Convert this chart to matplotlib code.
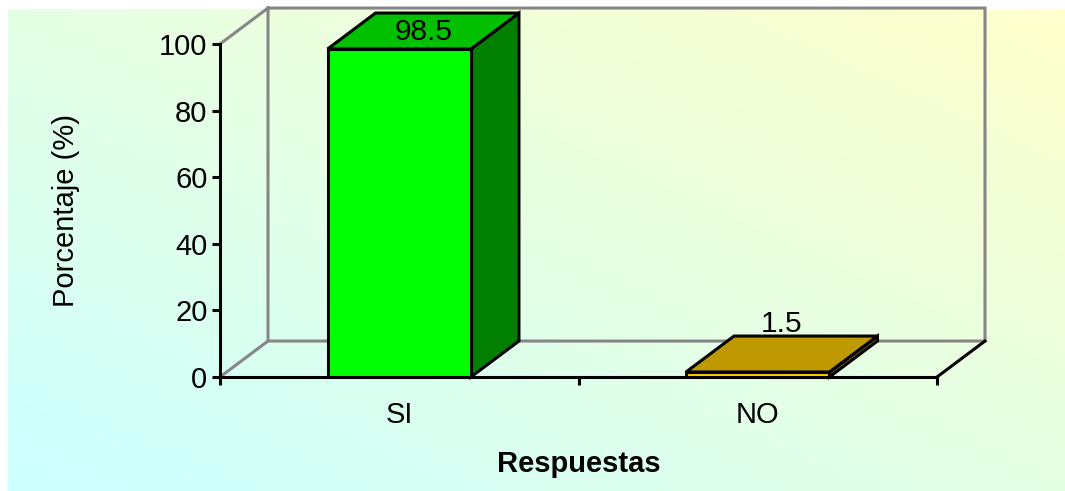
import numpy as np
import matplotlib
matplotlib.use('Agg')
import matplotlib.pyplot as plt
from matplotlib.colors import to_rgb
from matplotlib.patches import Polygon

plt.rcParams['font.family'] = ['Liberation Sans', 'DejaVu Sans']

categories = ['SI', 'NO']
values = [98.5, 1.5]
yticks = [0, 20, 40, 60, 80, 100]

W, H = 1065, 491
fig = plt.figure(figsize=(W/100, H/100), dpi=100, facecolor='white')

# fondo degradado
bg = fig.add_axes([8/W, 0, (W-8)/W, (H-9)/H])
u, v = np.meshgrid(np.linspace(0, 1, 300), np.linspace(0, 1, 150))
t = ((u + v)/2)[..., None]
c1 = np.array(to_rgb('#CCFFFF'))
c2 = np.array(to_rgb('#FFFFCC'))
bg.imshow(c1*(1-t) + c2*t, origin='lower', aspect='auto')
bg.axis('off')

ax = fig.add_axes([220/W, (H-377)/H, 717/W, 333/H])
ax.patch.set_alpha(0)
ax.set_xlim(0, 2)
ax.set_ylim(0, 100)

# profundidad del grafico 3D en unidades de datos
dx = 48/358.5
dy = 10.8
bw = 0.4
grey = '#868686'
lw = 2.2

# paredes
ax.plot([0, dx, 2+dx, 2+dx, dx, dx], [100, 100+dy, 100+dy, dy, dy, 100+dy],
        color=grey, lw=lw, clip_on=False, zorder=1, solid_joinstyle='miter')
ax.plot([0, dx], [0, dy], color=grey, lw=lw, clip_on=False, zorder=1)
ax.plot([2, 2+dx], [0, dy], color='black', lw=lw, clip_on=False, zorder=2)

# etiqueta NO queda detras de la barra
front = ['#00FF00', '#FFCC00']
top = ['#00C000', '#BF9900']
side = ['#007F00', '#806600']
for i, val in enumerate(values):
    c = i + 0.5
    x0, x1 = c - bw/2, c + bw/2
    ax.add_patch(Polygon([(x1, 0), (x1+dx, dy), (x1+dx, val+dy), (x1, val)], fc=side[i],
                         ec='black', lw=lw, clip_on=False, zorder=4, joinstyle='miter'))
    ax.add_patch(Polygon([(x0, val), (x0+dx, val+dy), (x1+dx, val+dy), (x1, val)], fc=top[i],
                         ec='black', lw=lw, clip_on=False, zorder=4, joinstyle='miter'))
    ax.add_patch(Polygon([(x0, 0), (x0, val), (x1, val), (x1, 0)], fc=front[i],
                         ec='black', lw=lw, clip_on=False, zorder=5, joinstyle='miter'))

ax.text(0.5+dx/2, values[0]+dy/2-0.3, '98.5', ha='center', va='center', fontsize=21.5, zorder=6)
ax.text(1.5+dx/2, values[1]+dy-0.6, '1.5', ha='center', va='bottom', fontsize=21.5, zorder=3)

# ejes
for s in ['top', 'right']:
    ax.spines[s].set_visible(False)
for s in ['left', 'bottom']:
    ax.spines[s].set_linewidth(lw)
    ax.spines[s].set_zorder(3)
ax.set_yticks(yticks)
ax.set_xticks([0, 1, 2])
ax.set_xticklabels([])
ax.set_xticks([0.5, 1.5], categories, minor=True)
ax.tick_params(axis='y', labelsize=21, length=6, width=lw, pad=3)
ax.tick_params(axis='x', which='major', length=6, width=lw)
ax.tick_params(axis='x', which='minor', labelsize=21, length=0, pad=17)
ax.set_ylabel('Porcentaje (%)', fontsize=21, va='center')
ax.yaxis.set_label_coords(-154/717, 0.5)
ax.set_xlabel('Respuestas', fontsize=21, fontweight='bold', va='center')
ax.xaxis.set_label_coords(0.5, -87/333)

fig.savefig('out.png', dpi=100)
